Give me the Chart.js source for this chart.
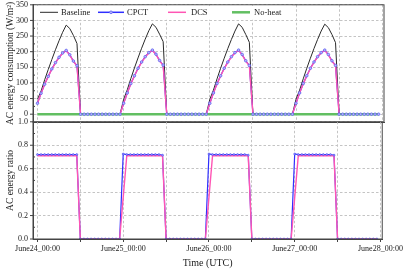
<!DOCTYPE html>
<html>
<head>
<meta charset="utf-8">
<script src="https://cdn.jsdelivr.net/npm/chart.js@4.4.0/dist/chart.umd.min.js"></script>
<style>
  html, body { margin: 0; padding: 0; background: #fff; }
  #wrap { position: relative; width: 405px; height: 271px; }
  canvas { position: absolute; left: 0; }
  #top { top: 0; }
  #bot { top: 117px; }
</style>
</head>
<body>
<div id="wrap">
  <canvas id="top" width="405" height="135"></canvas>
  <canvas id="bot" width="405" height="154"></canvas>
</div>
<script>
// hourly steps, June24 00:00 .. June27 23:00
const hours = [];
for (let h = 0; h < 96; h++) hours.push(h);

const dayLabels = ['June24_00:00', 'June25_00:00', 'June26_00:00', 'June27_00:00', 'June28_00:00'];
const energyTicks = [0, 50, 100, 150, 200, 250, 300, 350];
const ratioTicks = [0, 0.2, 0.4, 0.6, 0.8, 1.0];

// AC energy consumption (W/m2)
const baseline = [
  48, 74, 110, 143, 175, 206, 235, 262, 285, 274, 252, 226, 0, 0, 0, 0, 0, 0, 0, 0, 0, 0, 0, 0,
  48, 78, 114, 148, 180, 211, 240, 267, 289, 278, 256, 232, 0, 0, 0, 0, 0, 0, 0, 0, 0, 0, 0, 0,
  48, 77, 113, 147, 179, 210, 239, 266, 289, 278, 255, 230, 0, 0, 0, 0, 0, 0, 0, 0, 0, 0, 0, 0,
  48, 77, 113, 147, 179, 210, 239, 266, 288, 277, 255, 229, 0, 0, 0, 0, 0, 0, 0, 0, 0, 0, 0, 0
];
const cpct = [
  35, 67, 96, 121, 145, 165, 182, 196, 204, 190, 170, 155, 0, 0, 0, 0, 0, 0, 0, 0, 0, 0, 0, 0,
  35, 68, 98, 123, 147, 167, 184, 197, 205, 192, 172, 157, 0, 0, 0, 0, 0, 0, 0, 0, 0, 0, 0, 0,
  35, 68, 98, 123, 147, 167, 184, 197, 205, 191, 171, 156, 0, 0, 0, 0, 0, 0, 0, 0, 0, 0, 0, 0,
  35, 68, 98, 123, 147, 167, 184, 197, 205, 191, 171, 156, 0, 0, 0, 0, 0, 0, 0, 0, 0, 0, 0, 0
];
const dcs = [
  35, 67, 96, 121, 144, 164, 181, 195, 203, 189, 169, 154, 0, 0, 0, 0, 0, 0, 0, 0, 0, 0, 0, 0,
  35, 68, 97, 122, 146, 166, 183, 196, 204, 191, 171, 156, 0, 0, 0, 0, 0, 0, 0, 0, 0, 0, 0, 0,
  35, 68, 97, 122, 146, 166, 183, 196, 204, 190, 170, 155, 0, 0, 0, 0, 0, 0, 0, 0, 0, 0, 0, 0,
  35, 68, 97, 122, 146, 166, 183, 196, 204, 190, 170, 155, 0, 0, 0, 0, 0, 0, 0, 0, 0, 0, 0, 0
];
const noHeat = [
  0, 0, 0, 0, 0, 0, 0, 0, 0, 0, 0, 0, 0, 0, 0, 0, 0, 0, 0, 0, 0, 0, 0, 0,
  0, 0, 0, 0, 0, 0, 0, 0, 0, 0, 0, 0, 0, 0, 0, 0, 0, 0, 0, 0, 0, 0, 0, 0,
  0, 0, 0, 0, 0, 0, 0, 0, 0, 0, 0, 0, 0, 0, 0, 0, 0, 0, 0, 0, 0, 0, 0, 0,
  0, 0, 0, 0, 0, 0, 0, 0, 0, 0, 0, 0, 0, 0, 0, 0, 0, 0, 0, 0, 0, 0, 0, 0
];

// AC energy ratio
const cpctRatio = [
  0.72, 0.72, 0.72, 0.72, 0.72, 0.72, 0.72, 0.72, 0.72, 0.72, 0.72, 0.72, 0, 0, 0, 0, 0, 0, 0, 0, 0, 0, 0, 0,
  0.725, 0.72, 0.72, 0.72, 0.72, 0.72, 0.72, 0.72, 0.72, 0.72, 0.72, 0.715, 0, 0, 0, 0, 0, 0, 0, 0, 0, 0, 0, 0,
  0.725, 0.72, 0.72, 0.72, 0.72, 0.72, 0.72, 0.72, 0.72, 0.72, 0.72, 0.715, 0, 0, 0, 0, 0, 0, 0, 0, 0, 0, 0, 0,
  0.725, 0.72, 0.72, 0.72, 0.72, 0.72, 0.72, 0.72, 0.72, 0.72, 0.72, 0.715, 0, 0, 0, 0, 0, 0, 0, 0, 0, 0, 0, 0
];
const dcsRatio = [
  0.71, 0.71, 0.71, 0.71, 0.71, 0.71, 0.71, 0.71, 0.71, 0.71, 0.71, 0.71, 0, 0, 0, 0, 0, 0, 0, 0, 0, 0, 0, 0,
  null, 0.71, 0.71, 0.71, 0.71, 0.71, 0.71, 0.71, 0.71, 0.71, 0.71, 0.71, 0, 0, 0, 0, 0, 0, 0, 0, 0, 0, 0, 0,
  null, 0.71, 0.71, 0.71, 0.71, 0.71, 0.71, 0.71, 0.71, 0.71, 0.71, 0.71, 0, 0, 0, 0, 0, 0, 0, 0, 0, 0, 0, 0,
  null, 0.71, 0.71, 0.71, 0.71, 0.71, 0.71, 0.71, 0.71, 0.71, 0.71, 0.71, 0, 0, 0, 0, 0, 0, 0, 0, 0, 0, 0, 0
];

const serif = '"Liberation Serif", "Times New Roman", serif';
const ink = '#222';
const frameCol = '#444';
const gridCol = '#c4c4c4';
const baseCol = '#2a2a2a';
const cpctCol = '#2f2fff';
const markFill = '#b8b8ff';
const markEdge = '#5858ee';
const dcsCol = '#ff55b4';
const noHeatCol = '#62bf62';

const pts = arr => arr.map((v, i) => ({ x: hours[i], y: v }));

function xAxis(showLabels, axisHeight) {
  return {
    type: 'linear',
    min: -1.25,
    max: 96.5,
    afterBuildTicks: s => { s.ticks = [0, 12, 24, 36, 48, 60, 72, 84, 96].map(v => ({ value: v })); },
    afterFit: s => { s.height = axisHeight; },
    grid: { color: gridCol, lineWidth: 1, drawTicks: showLabels, tickLength: 3, tickColor: frameCol },
    border: { display: true, color: frameCol, width: 1, dash: [2.5, 2] },
    ticks: {
      display: showLabels, autoSkip: false, maxRotation: 0, padding: 2, color: ink,
      font: { family: serif, size: 8 },
      callback: v => (v % 24 === 0 ? dayLabels[v / 24] : '')
    },
    title: {
      display: showLabels, text: 'Time (UTC)', color: ink, padding: 0,
      font: { family: serif, size: 10 }
    }
  };
}

function yAxis(min, max, tickVals, fmt, titleText) {
  return {
    min: min, max: max,
    afterBuildTicks: s => { s.ticks = tickVals.map(v => ({ value: v })); },
    afterFit: s => { s.width = 33; },
    // invisible tick marks give the label offset; real marks drawn by framePlugin
    grid: { color: gridCol, lineWidth: 1, drawTicks: true, tickLength: 5, tickColor: 'rgba(0,0,0,0)' },
    border: { display: true, color: frameCol, width: 1, dash: [2.5, 2] },
    ticks: { padding: 0, color: ink, font: { family: serif, size: 8 }, callback: fmt },
    title: {
      display: true, text: titleText, color: ink, padding: { top: 5, bottom: 0 },
      font: { family: serif, size: 9.5 }
    }
  };
}

// frame, major/minor ticks on the left axis
function framePlugin(majors, minors) {
  return {
    id: 'frame',
    afterDatasetsDraw(chart) {
      const { ctx, chartArea: a, scales } = chart;
      ctx.save();
      ctx.strokeStyle = frameCol;
      ctx.lineWidth = 1;
      ctx.strokeRect(a.left, a.top, a.right - a.left, a.bottom - a.top);
      ctx.beginPath();
      majors.forEach(v => {
        const y = scales.y.getPixelForValue(v);
        ctx.moveTo(a.left - 3, y); ctx.lineTo(a.left, y);
      });
      minors.forEach(v => {
        const y = scales.y.getPixelForValue(v);
        ctx.moveTo(a.left, y); ctx.lineTo(a.left + 2, y);
      });
      ctx.stroke();
      ctx.restore();
    }
  };
}

const legendPlugin = {
  id: 'inlegend',
  afterDatasetsDraw(chart) {
    const { ctx, chartArea: a } = chart;
    const y = a.top + 7.5;
    ctx.save();
    ctx.fillStyle = '#fff';
    ctx.fillRect(a.left + 1, a.top + 1, 258, 14);
    ctx.font = '8.5px ' + serif;
    ctx.textBaseline = 'middle';
    const items = [
      { text: 'Baseline', col: baseCol, w: 1, x0: 40, x1: 58, tx: 61 },
      { text: 'CPCT', col: cpctCol, w: 1.5, x0: 98, x1: 124, tx: 127, mark: true },
      { text: 'DCS', col: dcsCol, w: 1.5, x0: 168, x1: 186, tx: 191 },
      { text: 'No-heat', col: noHeatCol, w: 2.5, x0: 232, x1: 250, tx: 254 }
    ];
    items.forEach(it => {
      ctx.strokeStyle = it.col;
      ctx.lineWidth = it.w;
      ctx.beginPath(); ctx.moveTo(it.x0, y); ctx.lineTo(it.x1, y); ctx.stroke();
      if (it.mark) {
        ctx.beginPath();
        ctx.arc((it.x0 + it.x1) / 2, y, 1.4, 0, Math.PI * 2);
        ctx.fillStyle = markFill; ctx.fill();
        ctx.lineWidth = 0.7; ctx.strokeStyle = markEdge; ctx.stroke();
      }
      ctx.fillStyle = ink;
      ctx.fillText(it.text, it.tx, y + 0.5);
    });
    ctx.restore();
  }
};

const common = {
  responsive: false,
  animation: false,
  events: [],
  plugins: { legend: { display: false }, tooltip: { enabled: false } }
};

new Chart(document.getElementById('top'), {
  type: 'line',
  data: {
    datasets: [
      { data: pts(cpct), showLine: false, pointRadius: 1.3, pointBorderWidth: 0.7,
        pointBackgroundColor: markFill, pointBorderColor: markEdge, order: 0 },
      { data: pts(noHeat), borderColor: noHeatCol, borderWidth: 2.5, pointRadius: 0, order: 1 },
      { data: pts(dcs), borderColor: dcsCol, borderWidth: 1.4, pointRadius: 0, order: 2 },
      { data: pts(cpct), borderColor: cpctCol, borderWidth: 1.2, pointRadius: 0, order: 3 },
      { data: pts(baseline), borderColor: baseCol, borderWidth: 1, pointRadius: 0, order: 4 }
    ]
  },
  options: Object.assign({}, common, {
    layout: { padding: { top: 0.2, right: 21, bottom: 0, left: 0 } },
    scales: {
      x: xAxis(false, 13),
      y: yAxis(-25, 350, energyTicks, v => String(v), 'AC energy consumption (W/m\u00b2)')
    }
  }),
  plugins: [framePlugin(energyTicks, [25, 75, 125, 175, 225, 275, 325]), legendPlugin]
});

new Chart(document.getElementById('bot'), {
  type: 'line',
  data: {
    datasets: [
      { data: pts(cpctRatio), showLine: false, pointRadius: 1.0, pointBorderWidth: 0.6,
        pointBackgroundColor: '#9c9cff', pointBorderColor: '#4a4af0', order: 0 },
      { data: pts(dcsRatio), borderColor: dcsCol, borderWidth: 1.4, pointRadius: 0, spanGaps: true, order: 1 },
      { data: pts(cpctRatio), borderColor: cpctCol, borderWidth: 1.2, pointRadius: 0, order: 2 }
    ]
  },
  options: Object.assign({}, common, {
    layout: { padding: { top: 0.2, right: 21, bottom: 2, left: 0 } },
    scales: {
      x: xAxis(true, 30),
      y: yAxis(0, 1, ratioTicks, v => v.toFixed(1), 'AC energy ratio')
    }
  }),
  plugins: [framePlugin(ratioTicks, [0.1, 0.3, 0.5, 0.7, 0.9])]
});
</script>
</body>
</html>
